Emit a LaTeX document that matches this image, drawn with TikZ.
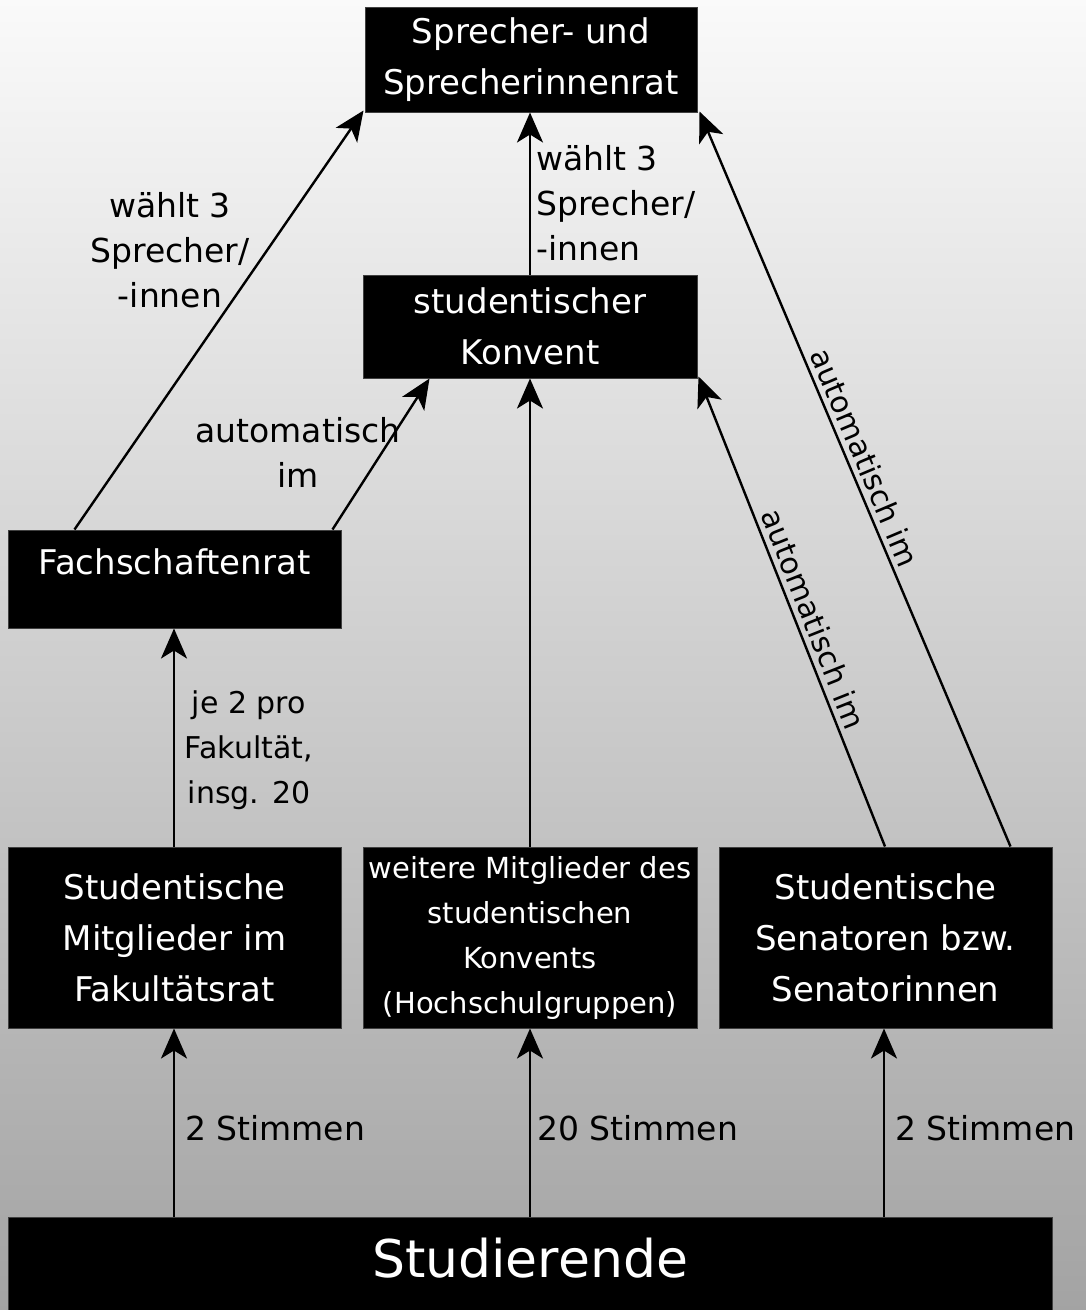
\documentclass[tikz,border=0pt]{standalone}
\usepackage{fontspec}
\setmainfont{DejaVu Sans}
\usetikzlibrary{arrows.meta,calc}
\begin{document}
\begin{tikzpicture}[x=1pt,y=-1pt,
  box/.style={fill=black,draw=black!75,line width=1pt,text=white,inner sep=0pt,align=center,
    font=\fontsize{34}{51}\selectfont},
  boxtxt/.style={text=white,inner sep=0pt,align=center,font=\fontsize{34}{51}\selectfont},
  lbl/.style={text=black,inner sep=0pt,font=\fontsize{33}{45}\selectfont},
  rlbl/.style={text=black,inner sep=5pt,font=\fontsize{30}{40}\selectfont,sloped},
  arr/.style={line width=2.4pt,-{Stealth[length=30pt,width=26pt,inset=8pt]}}]
\useasboundingbox (0,0) rectangle (1086,1310);
\shade[top color=black!2,bottom color=black!36] (0,0) rectangle (1086,1310);

% boxes
\node[box,minimum width=332,minimum height=105] (top) at (531,59.5) {Sprecher- und\\Sprecherinnenrat};
\node[box,minimum width=334,minimum height=103] (konv) at (530,326.5) {studentischer\\Konvent};
\node[box,minimum width=333,minimum height=98] (fsr) at (174.5,579) {};
\node[boxtxt] (fsrt) at (174.5,562) {Fachschaftenrat};
\node[box,minimum width=333,minimum height=181] (smf) at (174.5,937.5) {Studentische\\Mitglieder im\\Fakultätsrat};
\node[box,minimum width=334,minimum height=181,font=\fontsize{29}{45}\selectfont] (weit) at (530,937.5) {weitere Mitglieder des\\studentischen\\Konvents\\(Hochschulgruppen)};
\node[box,minimum width=333,minimum height=181] (sen) at (885.5,937.5) {Studentische\\Senatoren bzw.\\Senatorinnen};
\node[box,minimum width=1044,minimum height=97,font=\fontsize{52}{60}\selectfont] (stud) at (530,1265.5) {};
\node[boxtxt,font=\fontsize{52}{60}\selectfont] (studt) at (530,1258) {Studierende};

% arrows from Studierende
\draw[arr] (stud.north -| 174,0) -- (smf.south -| 174,0);
\draw[arr] (stud.north -| weit.south) -- (weit.south);
\draw[arr] (stud.north -| 884,0) -- (sen.south -| 884,0);
\node[lbl,anchor=west] (l1) at (185,1128) {2 Stimmen};
\node[lbl,anchor=west] (l2) at (537,1128) {20 Stimmen};
\node[lbl,anchor=west] (l3) at (895,1128) {2 Stimmen};

% Fakultaetsrat -> Fachschaftenrat
\draw[arr] (smf.north -| 174,0) -- (fsr.south -| 174,0);
\node[lbl,align=center,font=\fontsize{30}{45}\selectfont] (l4) at (249,750) {je 2 pro\\Fakultät,\\insg. 20};

% weitere -> Konvent
\draw[arr] (weit.north) -- (konv.south);

% Senatoren -> Konvent
\draw[arr] ([xshift=-167.5pt]sen.north east) -- ([xshift=1pt,yshift=2pt]konv.south east)
  node[rlbl,pos=0.47,above] {automatisch im};
% Senatoren -> Sprecherrat
\draw[arr] ([xshift=-42pt]sen.north east) -- ([xshift=2pt,yshift=1pt]top.south east)
  node[rlbl,pos=0.52,above] {automatisch im};

% Fachschaftenrat -> Konvent
\draw[arr] ([xshift=-9pt]fsr.north east) -- ([xshift=67pt]konv.south west);
\node[lbl,align=center] (l5) at (298,452) {automatisch\\im};

% Fachschaftenrat -> Sprecherrat
\draw[arr] ([xshift=67pt]fsr.north west) -- ([xshift=-1pt,yshift=2pt]top.south west);
\node[lbl,align=center] (l6) at (170,250) {wählt 3\\Sprecher/\\-innen};

% Konvent -> Sprecherrat
\draw[arr] (konv.north) -- (konv.north |- top.south);
\node[lbl,align=left,anchor=west] (l7) at (536,203) {wählt 3\\Sprecher/\\-innen};
\end{tikzpicture}
\end{document}
